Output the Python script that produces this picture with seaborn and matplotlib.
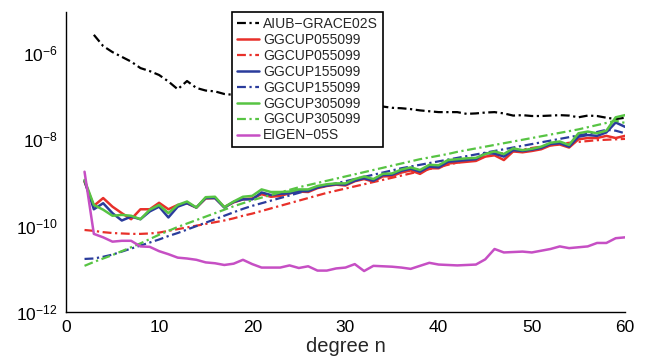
import numpy as np
import pandas as pd
import matplotlib
matplotlib.use("Agg")
import matplotlib.pyplot as plt
import matplotlib.ticker as mticker
import seaborn as sns

# ---- data (log10 of the plotted values) ----
degree_aiub = list(range(3, 61))
aiub_log = [-5.58, -5.84, -5.98, -6.09, -6.20, -6.35, -6.42, -6.51, -6.66, -6.84,
            -6.65, -6.81, -6.87, -6.89, -6.95, -6.97, -7.00, -7.02, -7.04, -7.06,
            -7.08, -7.09, -7.11, -7.13, -7.14, -7.16, -7.17, -7.18, -7.20, -7.21,
            -7.22, -7.24, -7.27, -7.28, -7.30, -7.33, -7.35, -7.37, -7.37, -7.37,
            -7.41, -7.40, -7.38, -7.37, -7.40, -7.45, -7.44, -7.46, -7.46, -7.45,
            -7.44, -7.45, -7.49, -7.45, -7.46, -7.50, -7.53, -7.50]

degree = list(range(2, 61))
red_solid_log = [-8.98, -9.54, -9.36, -9.56, -9.71, -9.85, -9.62, -9.62, -9.47, -9.62,
                 -9.52, -9.48, -9.58, -9.37, -9.36, -9.57, -9.46, -9.39, -9.37, -9.27,
                 -9.33, -9.31, -9.25, -9.21, -9.22, -9.13, -9.08, -9.05, -9.07, -8.97,
                 -8.92, -8.98, -8.86, -8.85, -8.77, -8.72, -8.80, -8.67, -8.67, -8.56,
                 -8.54, -8.52, -8.50, -8.40, -8.37, -8.48, -8.28, -8.30, -8.27, -8.23,
                 -8.14, -8.12, -8.19, -8.00, -7.97, -7.97, -7.92, -7.97, -7.92]
red_dash_log = [-10.10, -10.12, -10.15, -10.17, -10.18, -10.19, -10.19, -10.18, -10.16, -10.12,
                -10.08, -10.04, -10.00, -9.96, -9.92, -9.88, -9.83, -9.77, -9.72, -9.66,
                -9.60, -9.54, -9.48, -9.42, -9.36, -9.30, -9.24, -9.19, -9.14, -9.09,
                -9.04, -8.99, -8.94, -8.89, -8.84, -8.79, -8.74, -8.69, -8.64, -8.59,
                -8.54, -8.49, -8.45, -8.40, -8.36, -8.32, -8.28, -8.24, -8.20, -8.17,
                -8.14, -8.11, -8.08, -8.06, -8.04, -8.02, -8.01, -8.00, -7.99]
blue_solid_log = [-8.96, -9.62, -9.48, -9.71, -9.88, -9.79, -9.85, -9.67, -9.56, -9.81,
                  -9.56, -9.48, -9.58, -9.36, -9.36, -9.58, -9.45, -9.39, -9.39, -9.23,
                  -9.29, -9.26, -9.25, -9.20, -9.20, -9.11, -9.07, -9.04, -9.05, -8.96,
                  -8.90, -8.96, -8.83, -8.82, -8.73, -8.68, -8.75, -8.63, -8.65, -8.52,
                  -8.50, -8.48, -8.46, -8.32, -8.33, -8.40, -8.25, -8.27, -8.24, -8.20,
                  -8.11, -8.09, -8.17, -7.94, -7.90, -7.92, -7.84, -7.61, -7.71]
blue_dash_log = [-10.77, -10.76, -10.72, -10.67, -10.60, -10.53, -10.46, -10.39, -10.32, -10.24,
                 -10.17, -10.09, -10.01, -9.93, -9.85, -9.77, -9.69, -9.61, -9.54, -9.48,
                 -9.42, -9.36, -9.30, -9.24, -9.18, -9.12, -9.07, -9.02, -8.97, -8.92,
                 -8.87, -8.82, -8.77, -8.72, -8.67, -8.63, -8.59, -8.55, -8.51, -8.47,
                 -8.43, -8.39, -8.35, -8.31, -8.27, -8.23, -8.19, -8.15, -8.11, -8.07,
                 -8.03, -7.99, -7.95, -7.91, -7.87, -7.83, -7.78, -7.80, -7.86]
green_solid_log = [-8.94, -9.52, -9.63, -9.77, -9.75, -9.77, -9.85, -9.63, -9.52, -9.71,
                   -9.52, -9.44, -9.58, -9.34, -9.33, -9.57, -9.44, -9.33, -9.31, -9.16,
                   -9.22, -9.22, -9.21, -9.16, -9.16, -9.08, -9.04, -9.02, -9.02, -8.92,
                   -8.86, -8.92, -8.80, -8.79, -8.70, -8.65, -8.71, -8.59, -8.60, -8.48,
                   -8.46, -8.44, -8.43, -8.34, -8.28, -8.34, -8.21, -8.25, -8.22, -8.17,
                   -8.08, -8.05, -8.13, -7.86, -7.82, -7.86, -7.80, -7.49, -7.44]
green_dash_log = [-10.93, -10.84, -10.76, -10.68, -10.59, -10.50, -10.41, -10.31, -10.21, -10.12,
                  -10.03, -9.95, -9.87, -9.79, -9.71, -9.63, -9.55, -9.48, -9.41, -9.35,
                  -9.29, -9.23, -9.17, -9.11, -9.06, -9.01, -8.96, -8.91, -8.86, -8.81,
                  -8.76, -8.71, -8.66, -8.61, -8.56, -8.51, -8.46, -8.42, -8.38, -8.34,
                  -8.29, -8.25, -8.21, -8.17, -8.13, -8.09, -8.05, -8.01, -7.97, -7.93,
                  -7.89, -7.85, -7.81, -7.77, -7.72, -7.67, -7.62, -7.57, -7.62]
eigen_log = [-8.75, -10.19, -10.27, -10.37, -10.35, -10.35, -10.48, -10.49, -10.59, -10.66,
             -10.74, -10.76, -10.79, -10.85, -10.87, -10.91, -10.88, -10.79, -10.89, -10.97,
             -10.97, -10.97, -10.92, -10.98, -10.94, -11.04, -11.04, -10.99, -10.97, -10.89,
             -11.05, -10.93, -10.94, -10.95, -10.97, -11.00, -10.93, -10.86, -10.90, -10.91,
             -10.92, -10.91, -10.90, -10.78, -10.54, -10.62, -10.61, -10.60, -10.62, -10.58,
             -10.54, -10.48, -10.52, -10.50, -10.48, -10.40, -10.40, -10.29, -10.27]

labels = ["AIUB\u2212GRACE02S", "GGCUP055099", "GGCUP055099", "GGCUP155099",
          "GGCUP155099", "GGCUP305099", "GGCUP305099", "EIGEN\u221205S"]
xticks = [0, 10, 20, 30, 40, 50, 60]
yticks = [1e-12, 1e-10, 1e-8, 1e-6]
xlabel = "degree n"

# ---- styling ----
sns.set_style("white")
plt.rcParams["font.family"] = ["Liberation Sans", "DejaVu Sans"]
plt.rcParams["mathtext.default"] = "regular"

RED = "#e8302a"
BLUE = "#2a3c9c"
GREEN = "#57c443"
MAG = "#c64fc4"
DD = (4, 1.6, 1, 1.6)

series = [
    (degree_aiub, aiub_log, "black", "dd", 1.6),
    (degree, red_solid_log, RED, "solid", 1.8),
    (degree, red_dash_log, RED, "dd", 1.6),
    (degree, blue_solid_log, BLUE, "solid", 1.8),
    (degree, blue_dash_log, BLUE, "dd", 1.6),
    (degree, green_solid_log, GREEN, "solid", 1.8),
    (degree, green_dash_log, GREEN, "dd", 1.6),
    (degree, eigen_log, MAG, "solid", 1.8),
]

fig = plt.figure(figsize=(6.46, 3.62), dpi=100)
ax = fig.add_axes([0.102, 0.138, 0.8655, 0.829])

for (x, ylog, col, style, lw), lab in zip(series, labels):
    df = pd.DataFrame({"n": x, "v": np.power(10.0, ylog)})
    line_ax = sns.lineplot(data=df, x="n", y="v", ax=ax, color=col, lw=lw, label=lab)
    ln = line_ax.get_lines()[-1]
    if style == "dd":
        ln.set_dashes(DD)

ax.set_yscale("log")
ax.set_xlim(0, 60)
ax.set_ylim(1e-12, 10 ** -5.05)
ax.set_xticks(xticks)
ax.set_yticks(yticks)
ax.yaxis.set_minor_locator(mticker.NullLocator())
ax.xaxis.set_minor_locator(mticker.NullLocator())
ax.tick_params(axis="both", direction="in", length=5, width=1, labelsize=12.5,
               colors="black", pad=6)
ax.set_xlabel(xlabel, fontsize=14.5, labelpad=1)
ax.set_ylabel("")

for s in ["top", "right"]:
    ax.spines[s].set_visible(False)
for s in ["left", "bottom"]:
    ax.spines[s].set_color("black")
    ax.spines[s].set_linewidth(1.0)

leg = ax.legend(loc="upper left", bbox_to_anchor=(0.297, 1.0), fontsize=10,
                frameon=True, fancybox=False, edgecolor="black", framealpha=1,
                handlelength=1.6, handletextpad=0.3, borderpad=0.35,
                labelspacing=0.14, borderaxespad=0)
leg.get_frame().set_linewidth(1.2)
for h, (x, ylog, col, style, lw) in zip(leg.get_lines(), series):
    if style == "dd":
        h.set_dashes(DD)

fig.savefig("out.png", dpi=100)
